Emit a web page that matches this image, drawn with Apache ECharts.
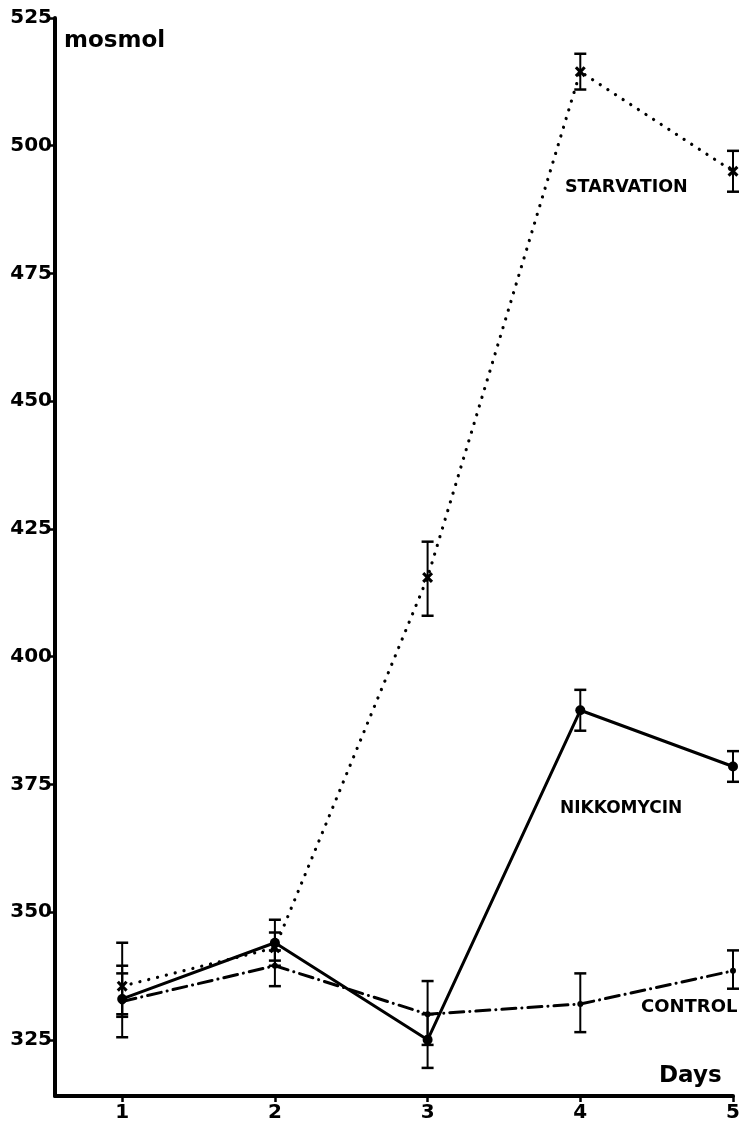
<!DOCTYPE html>
<html><head><meta charset="utf-8">
<script src="https://cdn.jsdelivr.net/npm/echarts@6/dist/echarts.min.js"></script>
<style>html,body{margin:0;padding:0;background:#fff}#c{width:743px;height:1128px}</style>
</head><body><div id="c"></div>
<script>
const days = [1, 2, 3, 4, 5];
const yTicks = [325, 350, 375, 400, 425, 450, 475, 500, 525];
const starvation = [335.5, 343, 415.5, 514.5, 495];
const starvationLow = [330, 339.5, 408, 511, 491];
const starvationHigh = [339.5, 346, 422.5, 518, 499];
const nikkomycin = [333, 344, 325, 389.5, 378.5];
const nikkomycinLow = [325.5, 340.5, 319.5, 385.5, 375.5];
const nikkomycinHigh = [344, 348.5, 330, 393.5, 381.5];
const control = [332.5, 339.5, 330, 332, 338.5];
const controlLow = [329.5, 335.5, 324, 326.5, 335];
const controlHigh = [338, 342.5, 336.5, 338, 342.5];
const seriesNames = ['STARVATION', 'NIKKOMYCIN', 'CONTROL'];

const FONT = '"DejaVu Sans", "Liberation Sans", sans-serif';
const xSym = 'path://M0,2L2,0L5,3L8,0L10,2L7,5L10,8L8,10L5,7L2,10L0,8L3,5Z';

function pts(vals) { return days.map((d, i) => [d, vals[i]]); }
function errSeries(name, low, high) {
  return {
    type: 'custom', name: name + ' error', silent: true, z: 3,
    data: days.map((d, i) => [d, low[i], high[i]]),
    encode: { x: 0, y: [1, 2] },
    renderItem: function (params, api) {
      const x = api.value(0);
      const lo = api.coord([x, api.value(1)]);
      const hi = api.coord([x, api.value(2)]);
      const hw = 6;
      return {
        type: 'group', children: [
          { type: 'line', shape: { x1: lo[0], y1: lo[1], x2: hi[0], y2: hi[1] }, style: { stroke: '#000', lineWidth: 2 } },
          { type: 'line', shape: { x1: lo[0] - hw, y1: lo[1], x2: lo[0] + hw, y2: lo[1] }, style: { stroke: '#000', lineWidth: 2.5 } },
          { type: 'line', shape: { x1: hi[0] - hw, y1: hi[1], x2: hi[0] + hw, y2: hi[1] }, style: { stroke: '#000', lineWidth: 2.5 } }
        ]
      };
    }
  };
}

const chart = echarts.init(document.getElementById('c'), null, { renderer: 'canvas' });
chart.setOption({
  animation: false,
  backgroundColor: '#fff',
  grid: { left: 55, right: 10, top: 18, bottom: 32, containLabel: false },
  xAxis: {
    type: 'value', min: 0.56, max: 5,
    axisLine: { show: true, lineStyle: { color: '#000', width: 4 } },
    axisTick: { show: true, length: 6, lineStyle: { color: '#000', width: 2.5 }, customValues: days },
    axisLabel: { customValues: days, color: '#000', fontFamily: FONT, fontWeight: 'bold', fontSize: 20, margin: 7 },
    splitLine: { show: false }
  },
  yAxis: {
    type: 'value', min: 314, max: 525,
    axisLine: { show: true, lineStyle: { color: '#000', width: 4 } },
    axisTick: { show: true, length: 6, lineStyle: { color: '#000', width: 2.5 }, customValues: yTicks },
    axisLabel: { customValues: yTicks, color: '#000', fontFamily: FONT, fontWeight: 'bold', fontSize: 20, margin: 3 },
    splitLine: { show: false }
  },
  series: [
    errSeries(seriesNames[0], starvationLow, starvationHigh),
    errSeries(seriesNames[1], nikkomycinLow, nikkomycinHigh),
    errSeries(seriesNames[2], controlLow, controlHigh),
    {
      type: 'line', name: seriesNames[0], data: pts(starvation), z: 4,
      symbol: xSym, symbolSize: 11, itemStyle: { color: '#000' },
      lineStyle: { color: '#000', width: 3.2, type: [0.1, 9], cap: 'round' }
    },
    {
      type: 'line', name: seriesNames[1], data: pts(nikkomycin), z: 4,
      symbol: 'circle', symbolSize: 10, itemStyle: { color: '#000' },
      lineStyle: { color: '#000', width: 3, type: 'solid' }
    },
    {
      type: 'line', name: seriesNames[2], data: pts(control), z: 4,
      symbol: 'circle', symbolSize: 6, itemStyle: { color: '#000' },
      lineStyle: { color: '#000', width: 3, type: [14, 6, 0.1, 6], cap: 'round' }
    }
  ],
  graphic: [
    { type: 'text', left: 64, top: 30, style: { text: 'mosmol', fill: '#000', font: 'bold 23px ' + FONT } },
    { type: 'text', left: 659, top: 1065, style: { text: 'Days', fill: '#000', font: 'bold 23px ' + FONT } },
    { type: 'text', left: 565, top: 178, style: { text: seriesNames[0], fill: '#000', font: 'bold 17.5px ' + FONT } },
    { type: 'text', left: 560, top: 800, style: { text: seriesNames[1], fill: '#000', font: 'bold 17px ' + FONT } },
    { type: 'text', left: 641, top: 998, style: { text: seriesNames[2], fill: '#000', font: 'bold 18px ' + FONT } }
  ]
});
</script>
</body></html>
